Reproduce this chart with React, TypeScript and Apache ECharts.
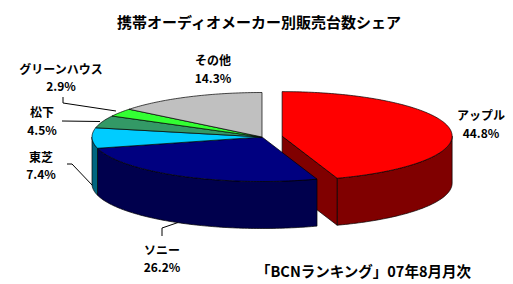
import React, { useEffect, useRef } from "react";
import * as echarts from "echarts";

// ---- data ----
const categories = ["アップル", "ソニー", "東芝", "松下", "グリーンハウス", "その他"];
const shares = [44.8, 26.2, 7.4, 4.5, 2.9, 14.3];
const explodeRatio = [0.12, 0, 0, 0, 0, 0];
const titleText = "携帯オーディオメーカー別販売台数シェア";
const sourceText = "「BCNランキング」07年8月月次";

// ---- styles / layout ----
const topColors = ["#FF0000", "#000080", "#00CCFF", "#339966", "#33FF33", "#C0C0C0"];
const sideColors = ["#800000", "#00004D", "#006680", "#1F5C3D", "#1F991F", "#737373"];
const CX = 262;
const CY = 137;
const RX = 170;
const RY = 44.5;
const DEPTH = 47;
const FONT = "'Noto Sans CJK JP', 'Noto Sans', sans-serif";

const labelPos: [number, number][] = [
  [481, 123.5],
  [162, 258],
  [41, 165],
  [42, 120.5],
  [61, 77],
  [213, 68.5],
];
const leaderLines: [number, number][][] = [
  [],
  [[162, 236], [162, 228], [178, 222.5]],
  [[67, 164], [72, 164], [93, 186]],
  [[62, 121], [100, 121.5]],
  [[63, 97], [63, 103], [116, 111]],
  [],
];

function pt(cx: number, cy: number, a: number, dy = 0): number[] {
  const r = (a * Math.PI) / 180;
  return [cx + RX * Math.sin(r), cy - RY * Math.cos(r) + dy];
}
function arc(cx: number, cy: number, a1: number, a2: number, dy = 0): number[][] {
  const n = Math.max(2, Math.ceil(Math.abs(a2 - a1)));
  const out: number[][] = [];
  for (let k = 0; k <= n; k++) out.push(pt(cx, cy, a1 + ((a2 - a1) * k) / n, dy));
  return out;
}

export default function App() {
  const ref = useRef<HTMLDivElement>(null);
  useEffect(() => {
    const chart = echarts.init(ref.current!, null, { renderer: "svg" });
    const total = shares.reduce((s, v) => s + v, 0);

    const renderItem = (params: any, api: any) => {
      const i = params.dataIndex;
      let before = 0;
      for (let j = 0; j < i; j++) before += shares[j];
      const a1 = (before / total) * 360;
      const a2 = ((before + api.value(0)) / total) * 360;
      const mid = (a1 + a2) / 2;
      const e = explodeRatio[i];
      const m = (mid * Math.PI) / 180;
      const cx = CX + e * RX * Math.sin(m);
      const cy = CY - e * RY * Math.cos(m);
      const base = e > 0 ? 0 : 10;
      const edge = { stroke: "#000", lineWidth: 0.7, lineJoin: "round" };
      const children: any[] = [];

      // outer wall (front half only)
      const b1 = Math.max(a1, 90);
      const b2 = Math.min(a2, 270);
      if (b1 < b2) {
        const top = arc(cx, cy, b1, b2);
        const bottom = arc(cx, cy, b1, b2, DEPTH).reverse();
        children.push({
          type: "polygon",
          z2: base + 1,
          shape: { points: top.concat(bottom) },
          style: { fill: sideColors[i], ...edge },
        });
      }
      // radial cut faces (only around an exploded gap)
      const prevEx = explodeRatio[(i - 1 + shares.length) % shares.length] > 0;
      const nextEx = explodeRatio[(i + 1) % shares.length] > 0;
      const faces: [number, number][] = [];
      if (e > 0 || prevEx) faces.push([a1, a1 - 90]);
      if (e > 0 || nextEx) faces.push([a2, a2 + 90]);
      faces.forEach(([a, n]) => {
        const front = -Math.cos((n * Math.PI) / 180);
        if (front <= 0.01) return;
        const p = pt(cx, cy, a);
        children.push({
          type: "polygon",
          z2: base + 1,
          shape: { points: [[cx, cy], p, [p[0], p[1] + DEPTH], [cx, cy + DEPTH]] },
          style: { fill: sideColors[i], ...edge },
        });
      });
      // top
      children.push({
        type: "polygon",
        z2: base + 2,
        shape: { points: [[cx, cy]].concat(arc(cx, cy, a1, a2)) },
        style: { fill: topColors[i], ...edge },
      });
      return { type: "group", children };
    };

    const graphics: any[] = [];
    categories.forEach((name, i) => {
      graphics.push({
        type: "text",
        x: labelPos[i][0],
        y: labelPos[i][1],
        style: {
          text: `${name}\n${shares[i].toFixed(1)}%`,
          fill: "#000",
          font: `bold 12px ${FONT}`,
          lineHeight: 17.5,
          align: "center",
          verticalAlign: "middle",
        },
      });
      if (leaderLines[i].length) {
        graphics.push({
          type: "polyline",
          shape: { points: leaderLines[i] },
          style: { stroke: "#000", lineWidth: 1, fill: null },
        });
      }
    });
    graphics.push({
      type: "text",
      x: 256,
      y: 270,
      style: {
        text: sourceText,
        fill: "#000",
        font: `bold 14.5px ${FONT}`,
        align: "left",
        verticalAlign: "middle",
      },
    });
    graphics.push({
      type: "text",
      x: 259,
      y: 21,
      style: {
        text: titleText,
        fill: "#000",
        font: `bold 15px ${FONT}`,
        align: "center",
        verticalAlign: "middle",
      },
    });

    chart.setOption({
      animation: false,
      backgroundColor: "#fff",
      series: [
        {
          type: "custom",
          coordinateSystem: "none",
          silent: true,
          data: shares.map((v, i) => ({ name: categories[i], value: [v] })),
          renderItem,
        },
      ],
      graphic: graphics,
    });
    return () => chart.dispose();
  }, []);
  return (
    <div
      ref={ref}
      style={{ position: "fixed", left: 0, top: 0, width: 513, height: 284, background: "#fff" }}
    />
  );
}
